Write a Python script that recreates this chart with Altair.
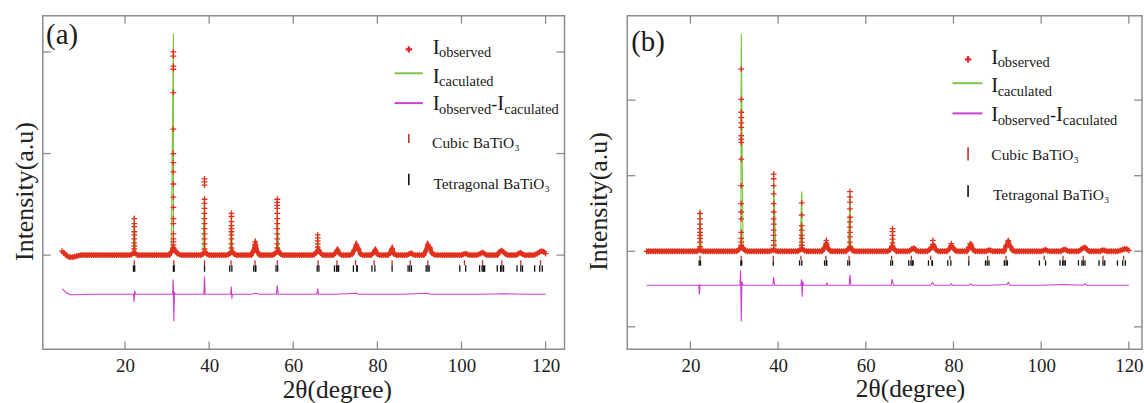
import altair as alt
import numpy as np
import pandas as pd

FONT = "Liberation Serif"
RED = "#e0301c"
GREEN = "#7cc846"
MAGENTA = "#cc3fd0"
FRAME = "#8c8c8c"
TXT = "#1a1a1a"
PLUS = "M-1,0L1,0M0,-1L0,1"

# ---------------- panel (a) values ----------------
# observed background band, 2theta = 5.0 ... 120.0 every 0.5 deg
bg_a = (
    [0.04, 0.02, 0.0, -0.015, -0.02, -0.02, -0.015, -0.01, -0.005] + [0] * 11          # 5.0-14.5
    + [0] * 13 + [0.005, 0.02, 0.015] + [0] * 4                                          # 15.0-24.5
    + [0] * 12 + [0.03, 0.07, 0.04, 0.015, 0.005] + [0] * 3                              # 25.0-34.5
    + [0] * 7 + [0.01, 0.03, 0.01] + [0] * 9 + [0.005]                                   # 35.0-44.5
    + [0.02, 0.035, 0.01] + [0] * 8 + [0.04, 0.1, 0.03] + [0] * 6                        # 45.0-54.5
    + [0, 0.01, 0.03, 0.04, 0.01] + [0] * 15                                             # 55.0-64.5
    + [0.005, 0.03, 0.05, 0.02] + [0] * 6 + [0.02, 0.05, 0.015] + [0] * 5 + [0.01, 0.05]  # 65.0-74.5
    + [0.1, 0.06, 0.01] + [0] * 5 + [0.02, 0.05, 0.01] + [0] * 5 + [0.02, 0.06, 0.01, 0]  # 75.0-84.5
    + [0] * 5 + [0.01, 0.02, 0.005] + [0] * 5 + [0.04, 0.1, 0.07, 0.02, 0.005, 0, 0]     # 85.0-94.5
    + [0] * 11 + [0.01, 0.015, 0.005] + [0] * 4 + [0.005, 0.015]                         # 95.0-104.5
    + [0.025, 0.015] + [0] * 6 + [0.03, 0.045, 0.03, 0.01] + [0] * 5 + [0.015, 0.025, 0.01]  # 105-114.5
    + [0, 0, 0, 0, 0, 0.005, 0.015, 0.03, 0.04, 0.035, 0.015]                            # 115-120
)
obs_peak_pos_a = [22.2, 31.5, 38.9, 45.3, 50.95, 56.2, 65.8]
obs_peak_I_a = [
    [0.36, 0.31, 0.28, 0.23, 0.20, 0.16, 0.12, 0.09, 0.06],
    [2.00, 1.96, 1.86, 1.83, 1.60, 1.24, 1.00, 0.91, 0.82, 0.70, 0.57, 0.47, 0.36, 0.31, 0.21, 0.16, 0.13, 0.10, 0.06],
    [0.75, 0.72, 0.69, 0.55, 0.51, 0.46, 0.41, 0.36, 0.31, 0.26, 0.21, 0.16, 0.11, 0.06],
    [0.41, 0.38, 0.33, 0.29, 0.26, 0.23, 0.20, 0.16, 0.11, 0.07],
    [0.13, 0.10, 0.07],
    [0.55, 0.52, 0.49, 0.46, 0.41, 0.36, 0.31, 0.26, 0.21, 0.16, 0.11, 0.07],
    [0.20, 0.17, 0.14, 0.11, 0.08],
]
calc_peak_pos_a = [22.2, 31.5, 38.9, 45.3, 50.95, 56.2, 65.8]
calc_peak_I_a = [0.39, 2.18, 0.55, 0.41, 0.11, 0.46, 0.17]
diff_x_a = [5.0, 5.5, 6.0, 7.0, 8.0, 12.0, 16.0, 22.0, 22.15, 22.3, 22.5, 26.0, 31.3, 31.45, 31.6, 31.75,
            32.0, 35.0, 38.75, 38.9, 39.05, 42.0, 45.1, 45.25, 45.4, 45.55, 50.0, 51.0, 52.0, 56.0, 56.2,
            56.4, 60.0, 65.6, 65.8, 66.0, 70.0, 75.0, 75.5, 80.0, 86.0, 92.0, 92.5, 98.0, 105.0, 110.0,
            115.0, 120.0]
diff_y_a = [-0.33, -0.35, -0.37, -0.39, -0.39, -0.385, -0.385, -0.385, -0.46, -0.35, -0.385, -0.385,
            -0.385, -0.24, -0.65, -0.37, -0.385, -0.385, -0.385, -0.21, -0.385, -0.385, -0.385, -0.31,
            -0.43, -0.385, -0.385, -0.375, -0.385, -0.385, -0.30, -0.385, -0.385, -0.385, -0.33, -0.385,
            -0.385, -0.375, -0.385, -0.385, -0.385, -0.375, -0.385, -0.385, -0.385, -0.38, -0.385, -0.385]

# ---------------- panel (b) values ----------------
# observed background band, 2theta = 10.0 ... 120.0 every 0.5 deg
bg_b = (
    [0] * 20                                                                              # 10.0-19.5
    + [0, 0, 0, 0, 0.02, 0.01] + [0] * 14                                                 # 20.0-29.5
    + [0, 0, 0.02, 0.05, 0.04, 0.01] + [0] * 11 + [0.01, 0.02, 0.005]                     # 30.0-39.5
    + [0] * 10 + [0.02, 0.03, 0.01] + [0] * 7                                             # 40.0-49.5
    + [0, 0.04, 0.09, 0.03] + [0] * 8 + [0.03, 0.05, 0.01] + [0] * 5                      # 50.0-59.5
    + [0] * 11 + [0.02, 0.06, 0.03] + [0] * 6                                             # 60.0-69.5
    + [0.005, 0.03, 0.04, 0.01] + [0] * 5 + [0.02, 0.05, 0.07, 0.02] + [0] * 5 + [0.03, 0.07]  # 70-79.5
    + [0.04, 0.005] + [0] * 5 + [0.05, 0.08, 0.02] + [0] * 6 + [0.015, 0.01, 0, 0]        # 80.0-89.5
    + [0] * 4 + [0.07, 0.12, 0.06, 0.01] + [0] * 12                                       # 90.0-99.5
    + [0, 0.01, 0.02, 0.005] + [0] * 6 + [0.02, 0.025, 0.005] + [0] * 5 + [0.02, 0.04]    # 100-109.5
    + [0.05, 0.02] + [0] * 6 + [0.015, 0.01] + [0] * 6 + [0.01, 0.02, 0.03, 0.03]         # 110-119.5
    + [0.01]                                                                              # 120
)
obs_peak_pos_b = [22.2, 31.6, 39.0, 45.4, 51.0, 56.4, 66.1, 75.3, 79.5, 83.8, 92.5]
obs_peak_I_b = [
    [0.50, 0.43, 0.36, 0.30, 0.25, 0.21, 0.17, 0.12, 0.06],
    [2.41, 2.01, 1.84, 1.77, 1.70, 1.64, 1.53, 1.48, 1.44, 1.22, 0.87, 0.63, 0.52, 0.43, 0.25, 0.17, 0.12, 0.08],
    [1.02, 0.96, 0.87, 0.76, 0.63, 0.52, 0.43, 0.36, 0.28, 0.21, 0.14, 0.08],
    [0.64, 0.48, 0.34, 0.28, 0.21, 0.17, 0.12, 0.08],
    [0.145, 0.11, 0.08],
    [0.79, 0.72, 0.65, 0.56, 0.45, 0.39, 0.32, 0.25, 0.19, 0.12, 0.06],
    [0.30, 0.26, 0.21, 0.16, 0.11, 0.07],
    [0.145, 0.09],
    [0.10],
    [0.10],
    [0.14],
]
calc_peak_pos_b = [22.2, 31.6, 39.0, 45.4, 51.0, 56.4, 66.1]
calc_peak_I_b = [0.56, 2.88, 0.92, 0.79, 0.12, 0.74, 0.27]
diff_x_b = [10.0, 16.0, 21.9, 22.05, 22.2, 22.35, 27.0, 31.3, 31.45, 31.6, 31.75, 32.0, 36.0, 38.8, 39.0,
            39.2, 42.0, 45.2, 45.35, 45.5, 45.65, 45.8, 48.0, 50.9, 51.1, 51.3, 54.0, 56.2, 56.4, 56.6,
            61.0, 65.8, 66.0, 66.3, 70.0, 74.8, 75.2, 75.6, 79.2, 79.5, 79.8, 83.6, 83.9, 84.2, 88.0,
            92.2, 92.5, 92.9, 100.0, 105.3, 109.6, 110.0, 110.4, 115.0, 120.0]
diff_y_b = [-0.45, -0.45, -0.45, -0.57, -0.44, -0.45, -0.45, -0.45, -0.25, -0.93, -0.40, -0.45, -0.45,
            -0.45, -0.34, -0.45, -0.45, -0.45, -0.37, -0.60, -0.40, -0.45, -0.45, -0.45, -0.42, -0.45,
            -0.45, -0.45, -0.31, -0.45, -0.45, -0.45, -0.37, -0.45, -0.45, -0.45, -0.41, -0.45, -0.45,
            -0.43, -0.45, -0.45, -0.43, -0.45, -0.45, -0.44, -0.41, -0.45, -0.45, -0.44, -0.45, -0.43,
            -0.45, -0.45, -0.45]

# ---------------- Bragg reflection positions ----------------
cubic_pos = [22.2, 31.6, 38.9, 45.2, 50.9, 56.2, 65.9, 70.4, 74.8, 79.2, 83.5, 87.8, 92.0, 100.7,
             105.0, 109.6, 114.1, 118.8]
tetra_pos = [22.0, 22.3, 31.5, 31.7, 38.9, 44.9, 45.4, 50.6, 51.0, 51.1, 55.9, 56.3, 65.7, 66.1,
             69.8, 70.3, 70.6, 70.8, 74.3, 75.1, 75.2, 78.7, 79.4, 83.5, 87.3, 87.7, 88.1, 91.6,
             92.0, 92.3, 99.6, 101.0, 104.3, 104.9, 105.2, 105.5, 108.5, 109.3, 109.6, 110.0,
             113.2, 114.1, 114.5, 117.4, 118.6, 119.2]

x_ticks = [20, 40, 60, 80, 100, 120]
y_ticks_a = [0, 1, 2]
y_ticks_b = [-1, 0, 1, 2]


def legend_items(x_i, x_sub, rows, tick_rows, cub_x, tet_x):
    """Legend text pieces (text, x, baseline y, font size), in plot pixels."""
    r1, r2, r3 = rows
    return [
        ("I", x_i, r1, 21), ("observed", x_sub, r1 + 3.5, 14.5),
        ("I", x_i, r2, 21), ("caculated", x_sub, r2 + 3.5, 14.5),
        ("I", x_i, r3, 21), ("observed", x_sub, r3 + 3.5, 14.5),
        ("-", x_sub + 52.5, r3, 18), ("I", x_sub + 58.5, r3, 21), ("caculated", x_sub + 65.5, r3 + 3.5, 14.5),
        ("Cubic BaTiO₃", cub_x, tick_rows[0][2], 15.5),
        ("Tetragonal BaTiO₃", tet_x, tick_rows[1][2], 15.5),
    ]


def build(p):
    W, H = p["W"], p["H"]
    X = alt.X(
        "tt:Q",
        scale=alt.Scale(domain=p["xdom"], nice=False, zero=False),
        axis=alt.Axis(values=x_ticks, format="d", grid=False, domain=False, ticks=False, tickSize=0,
                      labelFont=FONT, labelFontSize=19, labelColor="#222222", labelPadding=22,
                      labelBaseline="alphabetic", labelFlush=False,
                      title="2θ(degree)", titleFont=FONT, titleFontSize=25.5, titleFontWeight="normal",
                      titleColor="#222222", titleX=p["xtx"], titleY=p["xty"],
                      titleBaseline="alphabetic", titleAlign="center"),
    )
    Y = alt.Y(
        "I:Q",
        scale=alt.Scale(domain=p["ydom"], nice=False, zero=False),
        axis=alt.Axis(labels=False, ticks=False, domain=False, grid=False, tickSize=0,
                      title="Intensity(a.u)", titleFont=FONT, titleFontSize=26, titleFontWeight="normal",
                      titleColor="#222222", titleAngle=270, titleX=p["ytx"], titleY=p["yty"],
                      titleBaseline="middle", titleAlign="center"),
    )
    grid = np.round(np.arange(p["start"], 120.0001, 0.5), 2)
    bg = pd.DataFrame({"tt": grid, "I": p["bg"]})
    calc_df = pd.concat([bg, pd.DataFrame({"tt": p["cpos"], "I": p["cI"]})]).sort_values("tt")
    peaks = pd.DataFrame([(pos, h) for pos, hs in zip(p["opos"], p["oI"]) for h in hs], columns=["tt", "I"])
    obs_df = pd.concat([bg, peaks])
    diff_df = pd.DataFrame({"tt": p["dx"], "I": p["dy"]})
    cub_df = pd.DataFrame({"tt": cubic_pos, "I": p["cub_y"][0], "I2": p["cub_y"][1]})
    tet_df = pd.DataFrame({"tt": tetra_pos, "I": p["tet_y"][0], "I2": p["tet_y"][1]})
    fx = pd.DataFrame({"tt": x_ticks})
    fy = pd.DataFrame({"I": p["yt"]})
    one = pd.DataFrame({"k": [0]})

    layers = []
    layers.append(alt.Chart(calc_df).mark_line(color=GREEN, strokeWidth=1.2).encode(x=X, y=Y))
    # dense observed band drawn as a thick stroke under the '+' markers
    layers.append(alt.Chart(bg).mark_line(color=RED, strokeWidth=4.5, opacity=0.95).encode(x=X, y=Y))
    layers.append(alt.Chart(obs_df).mark_point(shape=PLUS, filled=False, size=34, strokeWidth=1.3,
                                               color=RED, opacity=1).encode(x=X, y=Y))
    layers.append(alt.Chart(diff_df).mark_line(color=MAGENTA, strokeWidth=1.1).encode(x=X, y=Y))
    layers.append(alt.Chart(cub_df).mark_rule(color="#c0302a", strokeWidth=1.3).encode(x=X, y=Y, y2="I2:Q"))
    layers.append(alt.Chart(tet_df).mark_rule(color="#111111", strokeWidth=1.3).encode(x=X, y=Y, y2="I2:Q"))
    fr = dict(color=FRAME, strokeWidth=1.3)
    layers.append(alt.Chart(fx).mark_rule(**fr).encode(x=X, y=alt.value(H), y2=alt.value(H - 8)))
    layers.append(alt.Chart(fx).mark_rule(**fr).encode(x=X, y=alt.value(0), y2=alt.value(8)))
    layers.append(alt.Chart(fy).mark_rule(**fr).encode(y=Y, x=alt.value(0), x2=alt.value(8)))
    layers.append(alt.Chart(fy).mark_rule(**fr).encode(y=Y, x=alt.value(W), x2=alt.value(W - 8)))

    # ---- hand-built legend ----
    lg = p["leg"]
    (lx0, lx1), (ly_g, ly_m) = lg["line_x"], lg["line_y"]
    layers.append(alt.Chart(one).mark_rule(color=GREEN, strokeWidth=2).encode(
        x=alt.value(lx0), x2=alt.value(lx1), y=alt.value(ly_g)))
    layers.append(alt.Chart(one).mark_rule(color=MAGENTA, strokeWidth=2).encode(
        x=alt.value(lx0), x2=alt.value(lx1), y=alt.value(ly_m)))
    tr = lg["tick_rows"]
    layers.append(alt.Chart(one).mark_rule(color="#c0302a", strokeWidth=1.6).encode(
        x=alt.value(lg["tick_x"]), y=alt.value(tr[0][0]), y2=alt.value(tr[0][1])))
    layers.append(alt.Chart(one).mark_rule(color="#111111", strokeWidth=1.6).encode(
        x=alt.value(lg["tick_x"]), y=alt.value(tr[1][0]), y2=alt.value(tr[1][1])))
    layers.append(alt.Chart(one).mark_point(shape=PLUS, filled=False, size=42, strokeWidth=2.2,
                                            color="#e8202a", opacity=1).encode(
        x=alt.value(lg["plus"][0]), y=alt.value(lg["plus"][1])))
    for txt, x, y, fs in legend_items(lg["x_i"], lg["x_sub"], lg["rows"], tr, lg["cub_x"], lg["tet_x"]):
        layers.append(alt.Chart(one).mark_text(text=txt, font=FONT, fontSize=fs, align="left",
                                               baseline="alphabetic", color=TXT).encode(
            x=alt.value(x), y=alt.value(y)))
    lx, ly, lt = p["lab"]
    layers.append(alt.Chart(one).mark_text(text=lt, font=FONT, fontSize=29, align="left",
                                           baseline="alphabetic", color=TXT).encode(
        x=alt.value(lx), y=alt.value(ly)))

    return alt.layer(*layers).properties(width=W, height=H)


panel_a = dict(
    W=524, H=335, xdom=[0.45, 124.5], ydom=[-0.928, 2.356], start=5.0, bg=bg_a,
    cpos=calc_peak_pos_a, cI=calc_peak_I_a, opos=obs_peak_pos_a, oI=obs_peak_I_a,
    dx=diff_x_a, dy=diff_y_a, cub_y=(-0.05, -0.10), tet_y=(-0.10, -0.165), yt=y_ticks_a,
    xtx=295.3, xty=48.7, ytx=-18.4, yty=176,
    lab=(3.3, 28.5, "(a)"),
    leg=dict(plus=(367.6, 33.7), x_i=391.6, x_sub=398.0, rows=(38, 67, 95), tick_x=367.6,
             tick_rows=((118.7, 127.7, 133), (158.7, 170.3, 173.5)), line_x=(353.3, 381.6),
             line_y=(57.7, 87.7), cub_x=391.0, tet_x=392.3),
)
panel_b = dict(
    W=517, H=335, xdom=[5.6, 123.0], ydom=[-1.298, 3.116], start=10.0, bg=bg_b,
    cpos=calc_peak_pos_b, cI=calc_peak_I_b, opos=obs_peak_pos_b, oI=obs_peak_I_b,
    dx=diff_x_b, dy=diff_y_b, cub_y=(-0.06, -0.115), tet_y=(-0.12, -0.19), yt=y_ticks_b,
    xtx=284, xty=47, ytx=-29, yty=186,
    lab=(4, 35, "(b)"),
    leg=dict(plus=(342.3, 43.7), x_i=365.7, x_sub=372.0, rows=(48, 77, 106), tick_x=342.3,
             tick_rows=((132, 145.3, 145), (170.3, 182, 185)), line_x=(326.7, 356.7),
             line_y=(67.7, 98), cub_x=365.7, tet_x=367.3),
)

chart = (
    alt.hconcat(build(panel_a), build(panel_b), spacing=18)
    .properties(padding={"left": 10, "top": 13, "right": 0, "bottom": 0})
    .configure(font=FONT)
    .configure_view(stroke=FRAME, strokeWidth=1.5)
    .configure_axis(labelFont=FONT, titleFont=FONT)
    .configure_text(font=FONT)
)
chart.save("out.html", embed_options={"renderer": "svg", "actions": False})
